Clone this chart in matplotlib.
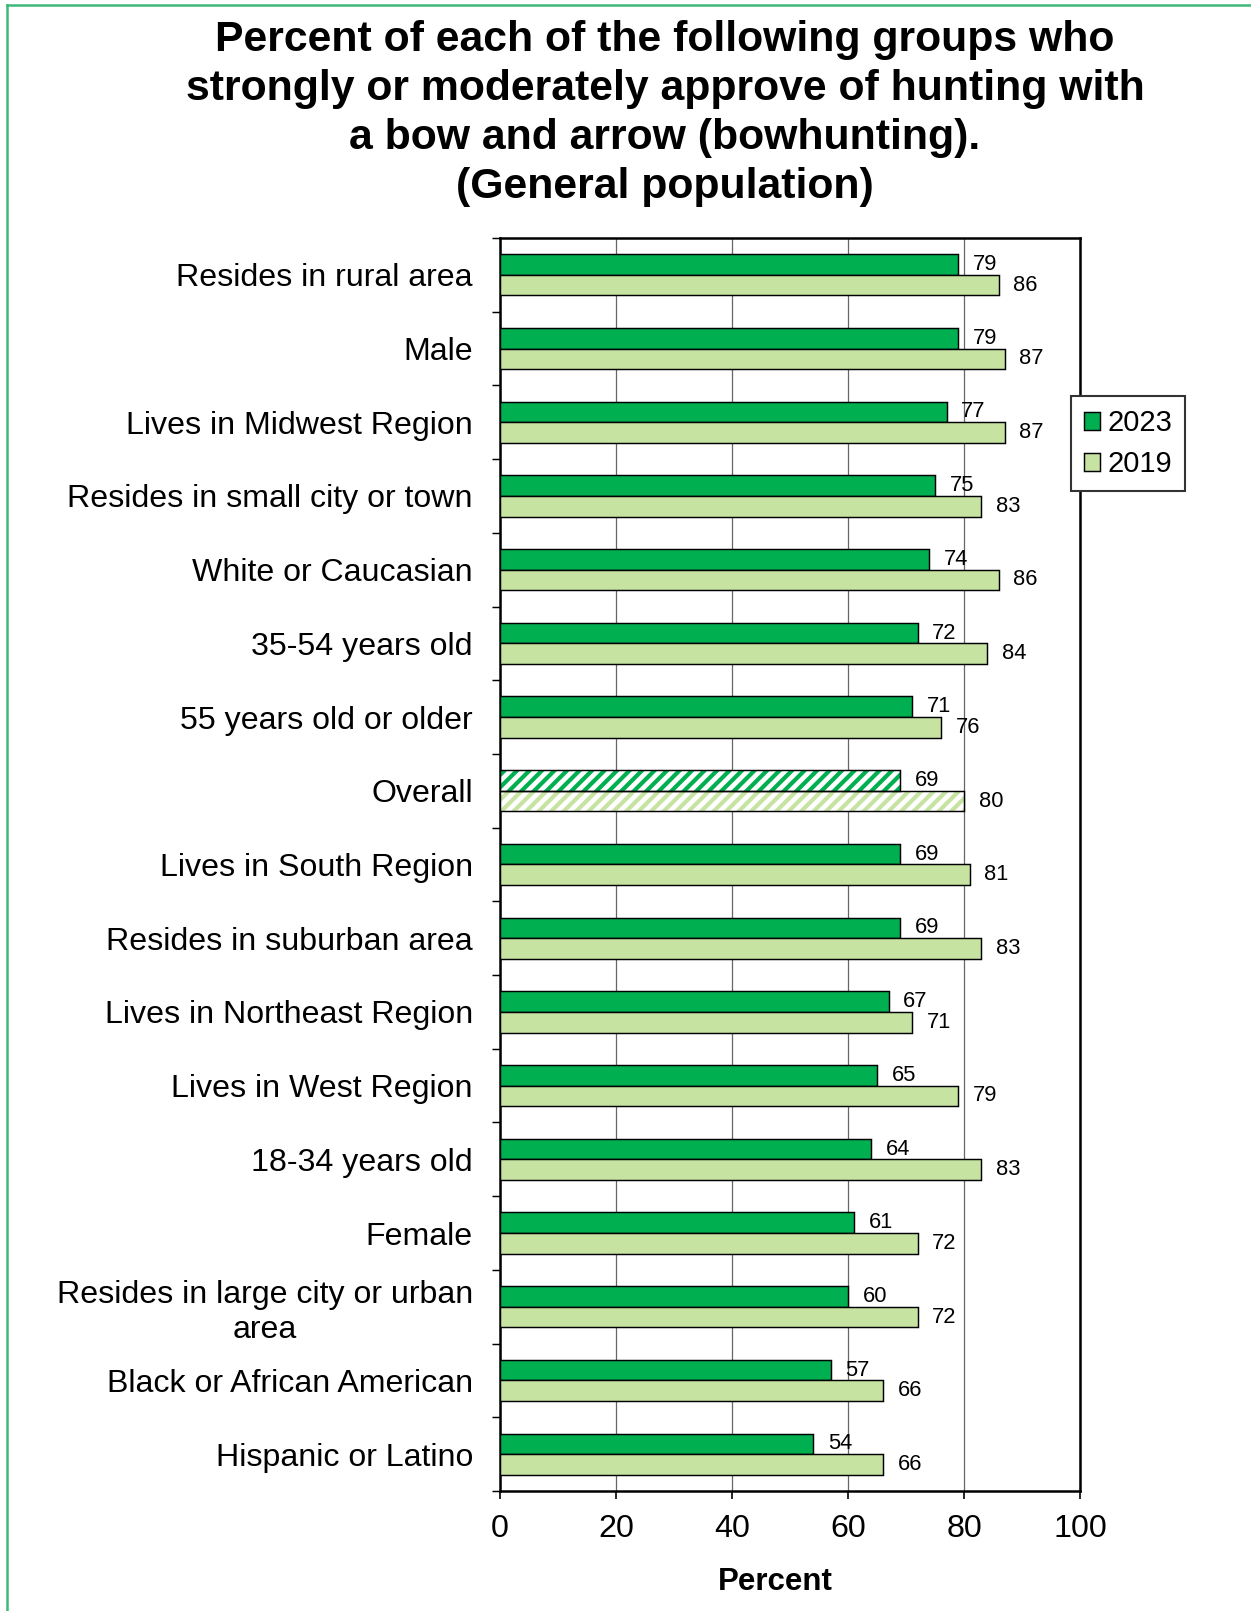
import numpy as np
import matplotlib.pyplot as plt
from matplotlib.lines import Line2D
from matplotlib.patches import Patch

categories = [
    "Resides in rural area",
    "Male",
    "Lives in Midwest Region",
    "Resides in small city or town",
    "White or Caucasian",
    "35-54 years old",
    "55 years old or older",
    "Overall",
    "Lives in South Region",
    "Resides in suburban area",
    "Lives in Northeast Region",
    "Lives in West Region",
    "18-34 years old",
    "Female",
    "Resides in large city or urban\narea",
    "Black or African American",
    "Hispanic or Latino",
]
pct_2023 = [79, 79, 77, 75, 74, 72, 71, 69, 69, 69, 67, 65, 64, 61, 60, 57, 54]
pct_2019 = [86, 87, 87, 83, 86, 84, 76, 80, 81, 83, 71, 79, 83, 72, 72, 66, 66]
years = ["2023", "2019"]
highlight = "Overall"
x_ticks = [0, 20, 40, 60, 80, 100]

DARK = '#00B050'
LIGHT = '#C6E3A2'
DPI = 150
W, H = 1252, 1611

plt.rcParams['font.family'] = ['Liberation Sans', 'DejaVu Sans']
plt.rcParams['hatch.linewidth'] = 2.0

fig = plt.figure(figsize=(W / DPI, H / DPI), dpi=DPI)
ax = fig.add_axes([500 / W, 1 - 1491 / H, 580 / W, 1253 / H])

y = np.arange(len(categories))
h = 0.28
hi = categories.index(highlight)

for vals, off, color in ((pct_2023, -h / 2, DARK), (pct_2019, h / 2, LIGHT)):
    bars = ax.barh(y + off, vals, height=h, color=color, edgecolor='black',
                   linewidth=0.7, zorder=3)
    # hatched "Overall" bar: green stripes on white, black outline on top
    b = bars[hi]
    b.set_facecolor('white')
    b.set_edgecolor(color)
    b.set_hatch('////')
    b.set_linewidth(0)
    ax.barh(y[hi] + off, vals[hi], height=h, fill=False, edgecolor='black',
            linewidth=0.7, zorder=4)
    for yi, v in zip(y, vals):
        ax.annotate(str(v), xy=(v, yi + off), xytext=(7, 0),
                    textcoords='offset points', va='center', ha='left',
                    fontsize=10.5, zorder=5)

ax.set_xlim(0, 100)
ax.set_ylim(len(categories) - 0.5, -0.5)
ax.set_xticks(x_ticks)
ax.set_yticks(y, labels=categories, multialignment='center')
ax.set_yticks(np.arange(-0.5, len(categories)), minor=True)
ax.tick_params(axis='y', which='major', length=0, pad=13, labelsize=15.4)
ax.tick_params(axis='y', which='minor', length=4, width=0.7)
ax.tick_params(axis='x', length=4, width=0.8, labelsize=15.5, pad=7)
ax.xaxis.grid(True, color='#666666', linewidth=0.6, zorder=0)
ax.set_axisbelow(True)
for s in ax.spines.values():
    s.set_linewidth(1.2)
ax.set_xlabel("Percent", fontsize=15, fontweight='bold')
ax.xaxis.set_label_coords(0.474, -0.061)

fig.text(665 / W, 1 - 20 / H,
         "Percent of each of the following groups who\n"
         "strongly or moderately approve of hunting with\n"
         "a bow and arrow (bowhunting).\n"
         "(General population)",
         ha='center', va='top', fontsize=20.5, fontweight='bold',
         linespacing=1.29)

handles = [Patch(facecolor=DARK, edgecolor='black', linewidth=0.7, label=years[0]),
           Patch(facecolor=LIGHT, edgecolor='black', linewidth=0.7, label=years[1])]
fig.legend(handles=handles, loc='upper left',
           bbox_to_anchor=(1071 / W, 1 - 396 / H), fontsize=14,
           fancybox=False, framealpha=1, edgecolor='#333333',
           handlelength=0.55, handleheight=0.55, handletextpad=0.25,
           labelspacing=0.45, borderpad=0.45, borderaxespad=0)

# green page border on the left and top
border = '#3DB97A'
fig.add_artist(Line2D([7 / W, 7 / W], [0, 1 - 5 / H], transform=fig.transFigure,
                      color=border, linewidth=1.2))
fig.add_artist(Line2D([7 / W, 1], [1 - 5 / H, 1 - 5 / H], transform=fig.transFigure,
                      color=border, linewidth=1.2))

fig.savefig("out.png", dpi=DPI)
